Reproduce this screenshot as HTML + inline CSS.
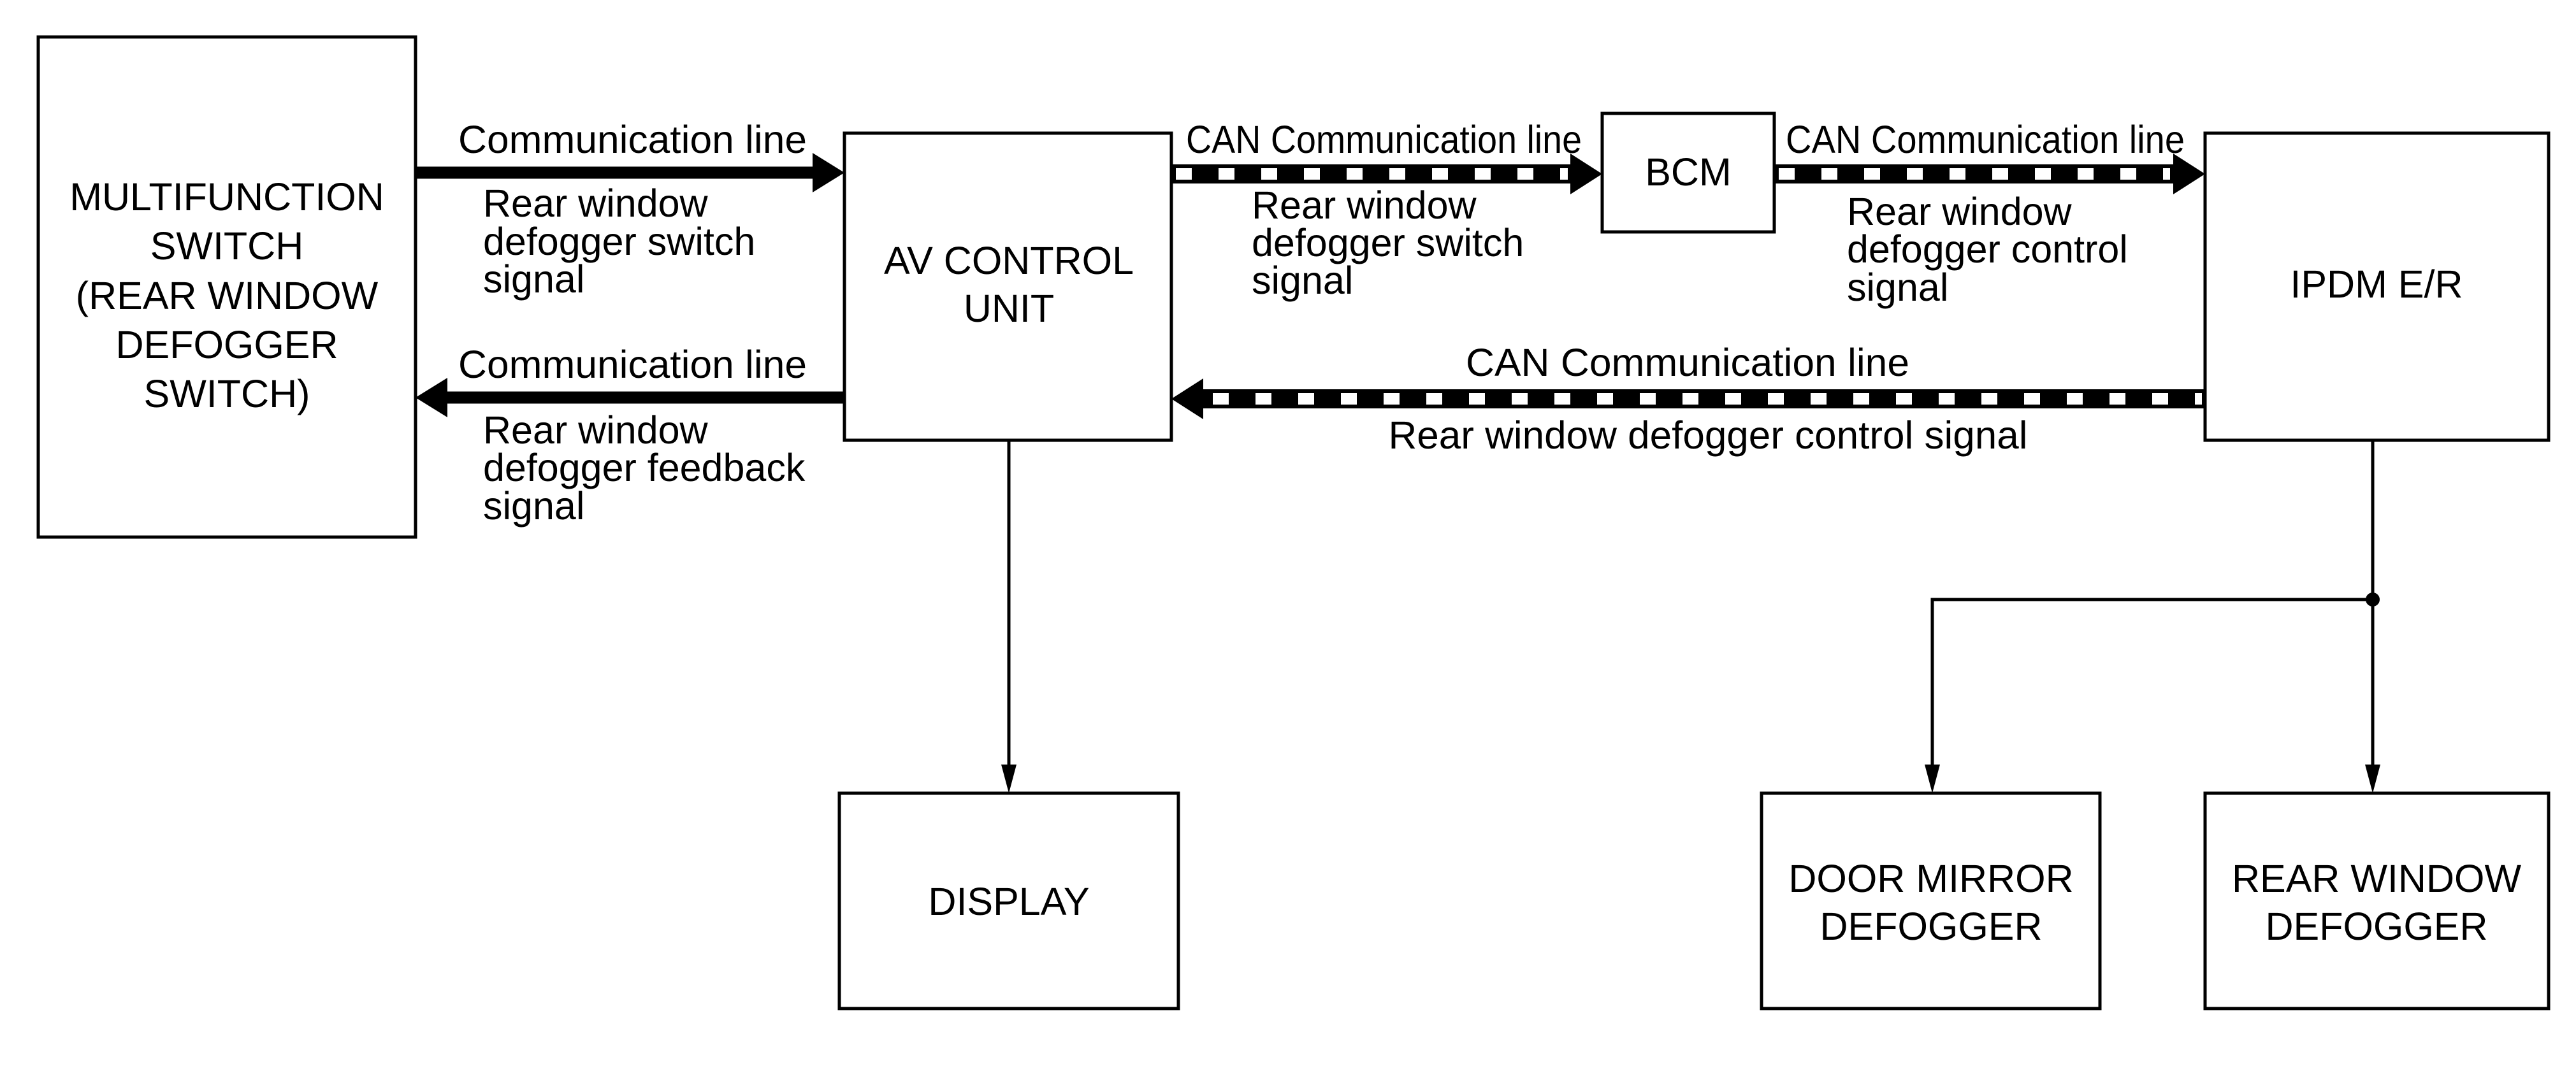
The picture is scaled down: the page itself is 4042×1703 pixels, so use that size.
<!DOCTYPE html>
<html><head><meta charset="utf-8"><style>
html,body{margin:0;padding:0;background:#fff;}
svg{display:block;}
text{font-family:"Liberation Sans",Arial,sans-serif;font-size:61px;fill:#000;}
</style></head><body>
<svg width="4042" height="1703" viewBox="0 0 4042 1703" xmlns="http://www.w3.org/2000/svg">
<g fill="none" stroke="#000" stroke-width="5">
<rect x="60" y="58" width="592" height="785"/>
<rect x="1325" y="209" width="513" height="482"/>
<rect x="2514" y="178" width="270" height="186"/>
<rect x="3460" y="209" width="539" height="482"/>
<rect x="1317" y="1245" width="532" height="338"/>
<rect x="2764" y="1245" width="531" height="338"/>
<rect x="3460" y="1245" width="539" height="338"/>
</g>
<!-- solid comm lines -->
<line x1="652" y1="271" x2="1280" y2="271" stroke="#000" stroke-width="19"/>
<polygon points="1325,271 1275,240 1275,302" fill="#000"/>
<line x1="700" y1="624" x2="1325" y2="624" stroke="#000" stroke-width="19"/>
<polygon points="652,624 702,593 702,655" fill="#000"/>
<!-- CAN lines -->
<g>
<line x1="1838" y1="273" x2="2470" y2="273" stroke="#000" stroke-width="30"/>
<line x1="1845" y1="273" x2="2460" y2="273" stroke="#fff" stroke-width="18" stroke-dasharray="25 42"/>
<polygon points="2514,273 2464,241 2464,305" fill="#000"/>
<line x1="2784" y1="273" x2="3415" y2="273" stroke="#000" stroke-width="30"/>
<line x1="2791" y1="273" x2="3405" y2="273" stroke="#fff" stroke-width="18" stroke-dasharray="25 42"/>
<polygon points="3460,273 3410,241 3410,305" fill="#000"/>
<line x1="1880" y1="626" x2="3460" y2="626" stroke="#000" stroke-width="30"/>
<line x1="1903" y1="626" x2="3455" y2="626" stroke="#fff" stroke-width="18" stroke-dasharray="25 42"/>
<polygon points="1838,626 1888,594 1888,658" fill="#000"/>
</g>
<!-- thin lines -->
<g stroke="#000" stroke-width="5" fill="none">
<line x1="1583" y1="691" x2="1583" y2="1205"/>
<line x1="3723" y1="691" x2="3723" y2="1205"/>
<polyline points="3723,941 3032,941 3032,1205"/>
</g>
<circle cx="3723" cy="941" r="11" fill="#000"/>
<polygon points="1583,1245 1571,1200 1595,1200" fill="#000"/>
<polygon points="3723,1245 3711,1200 3735,1200" fill="#000"/>
<polygon points="3032,1245 3020,1200 3044,1200" fill="#000"/>
<!-- labels -->
<text x="719" y="240" textLength="547" lengthAdjust="spacingAndGlyphs">Communication line</text>
<text x="758" y="340">Rear window</text>
<text x="758" y="400">defogger switch</text>
<text x="758" y="459">signal</text>
<text x="719" y="593" textLength="547" lengthAdjust="spacingAndGlyphs">Communication line</text>
<text x="758" y="696">Rear window</text>
<text x="758" y="755">defogger feedback</text>
<text x="758" y="815">signal</text>
<text x="1861" y="240" textLength="621" lengthAdjust="spacingAndGlyphs">CAN Communication line</text>
<text x="1964" y="343">Rear window</text>
<text x="1964" y="402">defogger switch</text>
<text x="1964" y="461">signal</text>
<text x="2802" y="240" textLength="626" lengthAdjust="spacingAndGlyphs">CAN Communication line</text>
<text x="2898" y="353">Rear window</text>
<text x="2898" y="412">defogger control</text>
<text x="2898" y="472">signal</text>
<text x="2648" y="590" text-anchor="middle" textLength="696" lengthAdjust="spacingAndGlyphs">CAN Communication line</text>
<text x="2680" y="704" text-anchor="middle" textLength="1003" lengthAdjust="spacingAndGlyphs">Rear window defogger control signal</text>
<g text-anchor="middle">
<text x="356" y="330">MULTIFUNCTION</text>
<text x="356" y="407">SWITCH</text>
<text x="356" y="485">(REAR WINDOW</text>
<text x="356" y="562">DEFOGGER</text>
<text x="356" y="639">SWITCH)</text>
<text x="1583" y="430">AV CONTROL</text>
<text x="1583" y="505">UNIT</text>
<text x="2649" y="291">BCM</text>
<text x="3729" y="467">IPDM E/R</text>
<text x="1583" y="1436">DISPLAY</text>
<text x="3030" y="1400">DOOR MIRROR</text>
<text x="3030" y="1475">DEFOGGER</text>
<text x="3729" y="1400">REAR WINDOW</text>
<text x="3729" y="1475">DEFOGGER</text>
</g>
</svg>
</body></html>
